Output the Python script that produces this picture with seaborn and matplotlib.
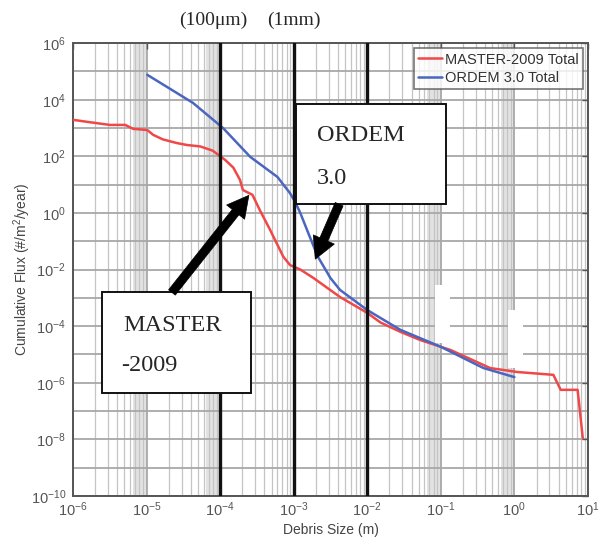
import numpy as np
import pandas as pd
import matplotlib
matplotlib.use("Agg")
import matplotlib.pyplot as plt
import seaborn as sns
from matplotlib.ticker import FixedLocator, LogLocator, FuncFormatter, NullFormatter
from matplotlib.patches import Rectangle

# ===============================
# Data (stored as log10 exponents)
# ===============================
master_logsize = [-6.0, -5.81, -5.5, -5.29, -5.18, -4.99, -4.91, -4.78, -4.59, -4.45,
                  -4.27, -4.10, -3.93, -3.82, -3.73, -3.69, -3.56, -3.46, -3.32, -3.14,
                  -3.05, -2.91, -2.73, -2.37, -2.0, -1.82, -1.55, -1.28, -0.87, -0.33,
                  0.04, 0.53, 0.63, 0.86, 0.93]
master_logflux = [3.29, 3.22, 3.11, 3.11, 2.97, 2.93, 2.76, 2.6, 2.47, 2.4,
                  2.35, 2.2, 1.87, 1.6, 1.17, 0.81, 0.64, 0.1, -0.6, -1.55,
                  -1.84, -2.0, -2.3, -2.97, -3.53, -3.87, -4.2, -4.49, -4.84, -5.48,
                  -5.62, -5.72, -6.25, -6.25, -7.95]

ordem_logsize = [-4.99, -4.37, -3.96, -3.59, -3.22, -3.05, -2.98, -2.91, -2.78, -2.67,
                 -2.5, -2.37, -2.0, -1.55, -1.0, -0.42, 0.0]
ordem_logflux = [4.88, 3.89, 3.0, 1.98, 1.27, 0.7, 0.39, 0.0, -0.85, -1.55,
                 -2.3, -2.72, -3.43, -4.13, -4.73, -5.48, -5.8]

series_names = ["MASTER-2009 Total", "ORDEM 3.0 Total"]
series_colors = ["#f04848", "#4a66c0"]
marker_sizes = [1e-4, 1e-3, 1e-2]
marker_labels = ["(100\u03bcm)", "(1mm)"]

df = pd.concat([
    pd.DataFrame({"size": 10.0 ** np.array(master_logsize),
                  "flux": 10.0 ** np.array(master_logflux),
                  "model": series_names[0]}),
    pd.DataFrame({"size": 10.0 ** np.array(ordem_logsize),
                  "flux": 10.0 ** np.array(ordem_logflux),
                  "model": series_names[1]}),
])

# ===============================
# Style
# ===============================
sns.set_theme(style="white")
plt.rcParams['font.family'] = ['Liberation Sans', 'DejaVu Sans']
plt.rcParams['mathtext.fontset'] = 'custom'
plt.rcParams['mathtext.rm'] = 'Liberation Sans'
plt.rcParams['mathtext.it'] = 'Liberation Sans:italic'

fig = plt.figure(figsize=(6.03, 5.43), dpi=100)
ax = fig.add_axes([0.121, 0.0866, 0.854, 0.834])
ax.set_xscale("log")
ax.set_yscale("log")
ax.set_xlim(1e-6, 1e1)
ax.set_ylim(1e-10, 1e6)

# shaded bands from the original rendering
for lo, hi in [(6.5e-6, 1e-5), (6.5e-5, 1e-4), (6.5e-2, 1e-1), (6.5e-1, 1e0)]:
    ax.axvspan(lo, hi, color="#e2e2e2", zorder=0, lw=0)

# ticks and grid
ax.yaxis.set_major_locator(FixedLocator([10.0 ** e for e in range(-10, 7, 2)]))
ax.yaxis.set_minor_locator(FixedLocator([10.0 ** e for e in range(-9, 6, 2)]))
ax.xaxis.set_major_locator(FixedLocator([10.0 ** e for e in range(-6, 2)]))
ax.xaxis.set_minor_locator(LogLocator(base=10, subs=np.arange(2, 10), numticks=50))
fmt = FuncFormatter(lambda v, _: "$10^{%d}$" % int(round(np.log10(v))))
ax.xaxis.set_major_formatter(fmt)
ax.yaxis.set_major_formatter(fmt)
ax.xaxis.set_minor_formatter(NullFormatter())
ax.yaxis.set_minor_formatter(NullFormatter())

ax.grid(True, which="major", axis="both", color="#a8a8a8", lw=1.3, zorder=1)
ax.grid(True, which="minor", axis="x", color="#c4c4c4", lw=0.9, zorder=1)
ax.grid(True, which="minor", axis="y", color="#a8a8a8", lw=1.3, zorder=1)
ax.set_axisbelow(True)
ax.tick_params(which="major", direction="in", length=4, width=1, color="#555555",
               top=True, right=True, labelsize=10.5, labelcolor="#555555", pad=5)
ax.tick_params(axis="x", which="major", pad=3)
ax.tick_params(which="minor", length=0)
for sp in ax.spines.values():
    sp.set_color("#555555")
    sp.set_linewidth(1.4)

# artefact patches from the source image
for x0, y0 in [(0.703, 0.338), (0.845, 0.283)]:
    ax.add_patch(Rectangle((x0, y0), 0.029, 0.128, transform=ax.transAxes,
                           facecolor="white", edgecolor="none", zorder=2))

# ===============================
# Curves
# ===============================
sns.lineplot(data=df, x="size", y="flux", hue="model", palette=series_colors,
             sort=False, estimator=None, lw=1.8, ax=ax, zorder=3)

for s in marker_sizes:
    ax.axvline(s, color="#111111", lw=2.4, zorder=4)

leg = ax.legend(loc="upper right", fontsize=10.5, handlelength=1.6, handletextpad=0.2,
                borderaxespad=0.35, borderpad=0.3, labelspacing=0.3,
                frameon=True, fancybox=False, edgecolor="#555555")
leg.get_frame().set_linewidth(1.2)
for t in leg.get_texts():
    t.set_color("#333333")
leg.set_zorder(6)

ax.set_xlabel("Debris Size (m)", fontsize=10, color="#444444")
ax.set_ylabel("Cumulative Flux (#/m$^2$/year)", fontsize=10, color="#444444")
ax.xaxis.set_label_coords(0.5, -0.06)
ax.yaxis.set_label_coords(-0.078, 0.5)

# ===============================
# Annotations
# ===============================
serif = ['Liberation Serif', 'DejaVu Serif']
for rect in [(0.433, 0.645, 0.291, 0.220), (0.056, 0.227, 0.290, 0.223)]:
    ax.add_patch(Rectangle(rect[:2], rect[2], rect[3], transform=ax.transAxes,
                           facecolor="white", edgecolor="#111111", lw=1.4, zorder=5))
ax.text(0.474, 0.797, "ORDEM", transform=ax.transAxes, family=serif, fontsize=17.5,
        va="center", ha="left", zorder=6)
ax.text(0.474, 0.702, "3.0", transform=ax.transAxes, family=serif, fontsize=17.5,
        va="center", ha="left", zorder=6)
ax.text(0.097, 0.377, "MASTER", transform=ax.transAxes, family=serif, fontsize=17.5,
        va="center", ha="left", zorder=6)
ax.text(0.094, 0.289, "-2009", transform=ax.transAxes, family=serif, fontsize=17.5,
        va="center", ha="left", zorder=6)

arrow = dict(arrowstyle="simple,head_width=0.75,head_length=0.7,tail_width=0.28",
             mutation_scale=22, facecolor="black", edgecolor="black", lw=0.5)
ax.annotate("", xy=(2.6e-4, 5.0), xytext=(2.1e-5, 1.3e-3), arrowprops=arrow, zorder=7)
ax.annotate("", xy=(1.9e-3, 1.9e-2), xytext=(4.3e-3, 2.5), arrowprops=arrow, zorder=7)

for s, lab in zip(marker_sizes, marker_labels):
    ax.text(s * (0.8 if lab.startswith("(100") else 1.0), 1.0 + 0.05, lab,
            transform=ax.get_xaxis_transform(), family=serif, fontsize=14,
            ha="center", va="center")

fig.savefig("out.png", dpi=100)
